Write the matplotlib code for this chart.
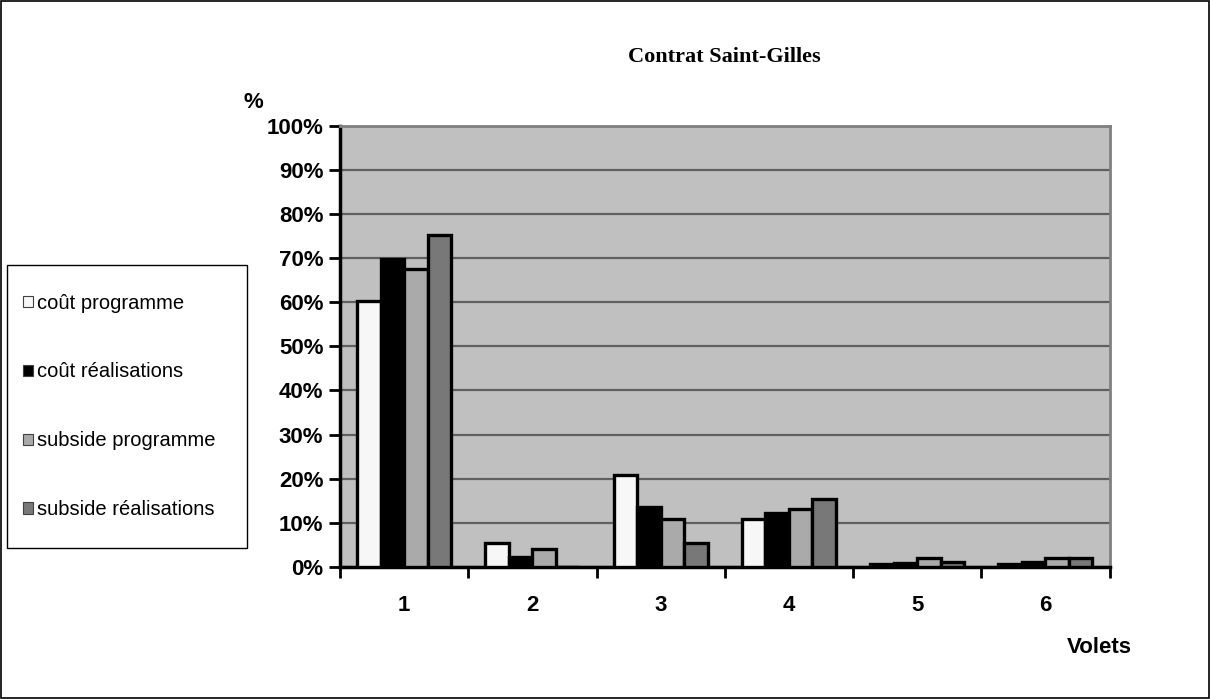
import numpy as np
import matplotlib.pyplot as plt
from matplotlib.patches import Rectangle

volets = ["1", "2", "3", "4", "5", "6"]
series = ["coût programme", "coût réalisations", "subside programme", "subside réalisations"]
cout_programme = [60.3, 5.4, 20.9, 10.9, 0.6, 0.6]
cout_realisations = [69.9, 2.3, 13.6, 12.3, 0.8, 1.2]
subside_programme = [67.6, 4.1, 10.8, 13.1, 2.1, 2.1]
subside_realisations = [75.3, 0.0, 5.4, 15.4, 1.2, 2.1]

values = [cout_programme, cout_realisations, subside_programme, subside_realisations]
colors = ["#f7f7f7", "#000000", "#aaaaaa", "#787878"]

plt.rcParams["font.family"] = ["Liberation Sans", "DejaVu Sans"]

fig = plt.figure(figsize=(12.1, 6.99), dpi=100)
ax = fig.add_axes([0.281, 0.189, 0.636, 0.631])
ax.set_facecolor("#c0c0c0")

x = np.arange(len(volets))
w = 0.183
handles = []
for i, (vals, col) in enumerate(zip(values, colors)):
    b = ax.bar(x + (i - 1.5) * w, vals, w, color=col, edgecolor="black",
               linewidth=2.4, zorder=3, label=series[i])
    handles.append(b)

ax.set_xlim(-0.5, 5.5)
ax.set_ylim(0, 100)
ax.set_yticks(range(0, 101, 10))
ax.set_yticklabels([f"{v}%" for v in range(0, 101, 10)], fontsize=16, fontweight="bold")
ax.set_xticks(x)
ax.set_xticklabels(volets, fontsize=16, fontweight="bold")
ax.set_xticks(np.arange(-0.5, 6, 1), minor=True)
ax.tick_params(axis="x", which="major", length=0, pad=20)
ax.tick_params(axis="x", which="minor", length=8, width=2, direction="out")
ax.tick_params(axis="y", length=8, width=2, direction="out", pad=4)
ax.yaxis.grid(True, color="#606060", linewidth=1.6, zorder=1)

for side in ["left", "bottom"]:
    ax.spines[side].set_linewidth(2.5)
    ax.spines[side].set_color("black")
for side in ["right", "top"]:
    ax.spines[side].set_color("#808080")
    ax.spines[side].set_linewidth(2)

fig.text(0.599, 0.918, "Contrat Saint-Gilles", ha="center", va="center",
         fontsize=16, fontweight="bold", family="Liberation Serif")
fig.text(0.209, 0.853, "%", ha="center", va="center", fontsize=16, fontweight="bold")
fig.text(0.9085, 0.073, "Volets", ha="center", va="center", fontsize=16, fontweight="bold")

# legend without frame, frame drawn separately
leg = fig.legend(handles=handles, loc="center left", bbox_to_anchor=(0.019, 0.4185),
                 fontsize=14.5, frameon=False,
                 handlelength=0.5, handleheight=0.5, handletextpad=0.2,
                 labelspacing=2.48, borderpad=0, borderaxespad=0)
for h in leg.legend_handles:
    h.set_linewidth(0.8)
    h.set_edgecolor("#404040")

fig.patches.append(Rectangle((0.0058, 0.216), 0.1983, 0.405, transform=fig.transFigure,
                             fill=False, edgecolor="black", linewidth=1.0))
fig.patches.append(Rectangle((0.001, 0.001), 0.998, 0.998, transform=fig.transFigure,
                             fill=False, edgecolor="black", linewidth=1.2))

fig.savefig("out.png", dpi=100)
